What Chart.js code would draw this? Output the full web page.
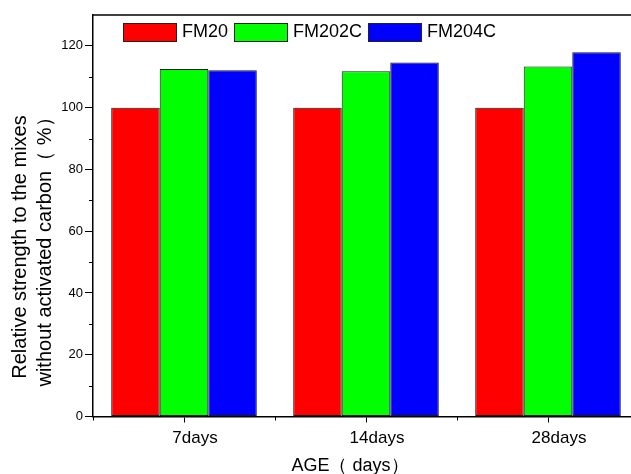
<!DOCTYPE html>
<html>
<head>
<meta charset="utf-8">
<script src="https://cdn.jsdelivr.net/npm/chart.js@4.4.1/dist/chart.umd.min.js"></script>
<style>
  html, body { margin: 0; padding: 0; background: #fff; overflow: hidden; }
  canvas { display: block; }
</style>
</head>
<body>
<canvas id="chart" width="660" height="474"></canvas>
<script>
// data
const ages = ['7days', '14days', '28days'];
const seriesNames = ['FM20', 'FM202C', 'FM204C'];
const fm20 = [100, 100, 100];
const fm202c = [112.5, 111.8, 113.3];
const fm204c = [112.1, 114.6, 117.9];
const minorTicks = [10, 30, 50, 70, 90, 110];
const xTitle = 'AGE（ days）';
const yTitle = ['Relative strength to the mixes', 'without activated carbon（ %）'];

const FONT = 'Arial, "Liberation Sans", sans-serif';

// extra drawing: top frame, minor ticks, legend box, axis titles
const extras = {
  id: 'extras',
  afterDraw(chart) {
    const ctx = chart.ctx;
    const a = chart.chartArea;
    const x = chart.scales.x;
    const y = chart.scales.y;
    ctx.save();
    ctx.strokeStyle = '#000';

    // top frame line
    ctx.lineWidth = 1.5;
    ctx.beginPath();
    ctx.moveTo(a.left, a.top);
    ctx.lineTo(chart.width, a.top);
    ctx.stroke();

    // minor y ticks
    ctx.lineWidth = 1;
    minorTicks.forEach(v => {
      const py = Math.round(y.getPixelForValue(v)) + 0.5;
      ctx.beginPath();
      ctx.moveTo(a.left - 4, py);
      ctx.lineTo(a.left, py);
      ctx.stroke();
    });

    // x ticks between categories
    for (let i = 0; i <= ages.length; i++) {
      const px = Math.round(x.getPixelForValue(i - 0.5)) + 0.5;
      ctx.beginPath();
      ctx.moveTo(px, a.bottom);
      ctx.lineTo(px, a.bottom + 4);
      ctx.stroke();
    }

    // legend
    ctx.font = '18px ' + FONT;
    ctx.textBaseline = 'middle';
    ctx.textAlign = 'left';
    let lx = 123;
    chart.data.datasets.forEach(ds => {
      ctx.fillStyle = ds.backgroundColor;
      ctx.fillRect(lx, 23, 53, 18);
      ctx.strokeStyle = '#222';
      ctx.lineWidth = 1;
      ctx.strokeRect(lx + 0.5, 23.5, 53, 18);
      ctx.fillStyle = '#000';
      ctx.fillText(ds.label, lx + 59, 32.5);
      lx += 59 + ctx.measureText(ds.label).width + 6;
    });

    // axis titles
    ctx.fillStyle = '#000';
    ctx.font = '18px ' + FONT;
    ctx.textAlign = 'center';
    ctx.fillText(xTitle, 350, 466);

    ctx.font = '20px ' + FONT;
    ctx.textBaseline = 'alphabetic';
    ctx.translate(0, 247);
    ctx.rotate(-Math.PI / 2);
    ctx.fillText(yTitle[0], 0, 26);
    ctx.fillText(yTitle[1], 0, 51);
    ctx.restore();
  }
};

new Chart(document.getElementById('chart'), {
  type: 'bar',
  data: {
    labels: ages,
    datasets: [
      { label: seriesNames[0], data: fm20, backgroundColor: '#ff0000' },
      { label: seriesNames[1], data: fm202c, backgroundColor: '#00ff00' },
      { label: seriesNames[2], data: fm204c, backgroundColor: '#0000ff' }
    ]
  },
  options: {
    responsive: false,
    animation: false,
    layout: { padding: { left: 0, top: 15, right: 21, bottom: 0 } },
    datasets: {
      bar: {
        borderColor: '#1a1a1a',
        borderWidth: 1,
        borderSkipped: false,
        categoryPercentage: 0.8,
        barPercentage: 1.0
      }
    },
    plugins: {
      legend: { display: false },
      tooltip: { enabled: false }
    },
    scales: {
      x: {
        offset: true,
        afterFit(scale) { scale.height = 57.5; },
        grid: {
          display: true,
          offset: false,
          drawOnChartArea: false,
          tickLength: 6,
          tickColor: '#000'
        },
        border: { display: true, color: '#000', width: 1.5 },
        ticks: {
          color: '#000',
          font: { family: FONT, size: 17 },
          labelOffset: 11,
          padding: 6,
          maxRotation: 0
        }
      },
      y: {
        min: 0,
        max: 130,
        afterFit(scale) { scale.width = 93; },
        grid: {
          display: true,
          drawOnChartArea: false,
          tickLength: 8,
          tickColor: '#000'
        },
        border: { display: true, color: '#000', width: 1.5 },
        ticks: {
          stepSize: 20,
          includeBounds: false,
          color: '#000',
          font: { family: FONT, size: 13 },
          padding: 2
        }
      }
    }
  },
  plugins: [extras]
});
</script>
</body>
</html>
